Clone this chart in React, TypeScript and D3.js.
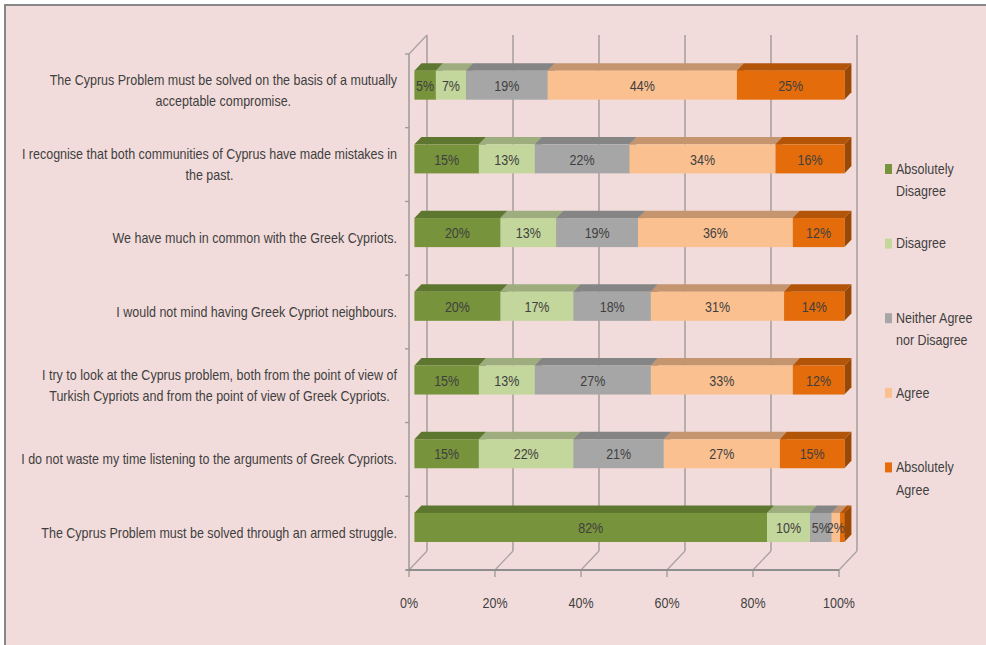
import React, { useEffect, useRef } from "react";
import * as d3 from "d3";

const categories: string[][] = [
  ["The Cyprus Problem must be solved on the basis of a mutually", "acceptable compromise."],
  ["I recognise that both communities of Cyprus have made mistakes in", "the past."],
  ["We have much in common with the Greek Cypriots."],
  ["I would not mind having Greek Cypriot neighbours."],
  ["I try to look at the Cyprus problem, both from the point of view of", "Turkish Cypriots and from the point of view of Greek Cypriots."],
  ["I do not waste my time listening to the arguments of Greek Cypriots."],
  ["The Cyprus Problem must be solved through an armed struggle."],
];

const seriesNames: string[][] = [
  ["Absolutely", "Disagree"],
  ["Disagree"],
  ["Neither Agree", "nor Disagree"],
  ["Agree"],
  ["Absolutely", "Agree"],
];

const absolutelyDisagree = [5, 15, 20, 20, 15, 15, 82];
const disagree = [7, 13, 13, 17, 13, 22, 10];
const neither = [19, 22, 19, 18, 27, 21, 5];
const agree = [44, 34, 36, 31, 33, 27, 2];
const absolutelyAgree = [25, 16, 12, 14, 12, 15, 1];

const seriesValues = [absolutelyDisagree, disagree, neither, agree, absolutelyAgree];

const frontColors = ["#77933C", "#C3D69B", "#A6A6A6", "#FAC090", "#E46C0A"];
const topColors = ["#5E7730", "#9DAD7E", "#858585", "#C4956F", "#B35508"];
const sideColors = ["#4F6328", "#8A9A6C", "#6E6E6E", "#A87E5C", "#9C4805"];

const xTicks = [0, 20, 40, 60, 80, 100];

const FONT = "'Liberation Sans', Arial, sans-serif";

export default function App() {
  const ref = useRef<SVGSVGElement>(null);

  useEffect(() => {
    const svg = d3.select(ref.current);
    svg.selectAll("*").remove();

    const W = 986, H = 645;
    svg.append("rect").attr("width", W).attr("height", H).attr("fill", "#ffffff");
    svg.append("rect").attr("x", 5).attr("y", 5).attr("width", W + 10).attr("height", H + 10)
      .attr("fill", "#F2DCDB").attr("stroke", "#878787").attr("stroke-width", 2);

    // horizontal condensing factor to mimic the narrow font of the reference
    const probe = svg.append("text").attr("font-family", FONT).attr("font-size", 14)
      .text(categories[5][0]);
    const probeW = (probe.node() as SVGTextElement).getComputedTextLength();
    probe.remove();
    const f = probeW > 0 ? 376 / probeW : 0.8;

    const addText = (
      parent: d3.Selection<SVGGElement, unknown, null, undefined>,
      tx: number, ty: number, str: string, anchor: string, size: number
    ) => {
      const g = parent.append("g").attr("transform", `translate(${tx},${ty}) scale(${f},1)`);
      const t = g.append("text")
        .attr("text-anchor", anchor).attr("dominant-baseline", "central")
        .attr("font-family", FONT).attr("font-size", size).attr("fill", "#3F3F3F")
        .text(str);
      return { g, t };
    };

    const x0 = 409, x1 = 839, yTop = 54, yBot = 570;
    const depth = { dx: 18, dy: -19 };
    const x = d3.scaleLinear().domain([0, 100]).range([x0, x1]);
    const y = d3.scaleBand<number>().domain(d3.range(categories.length)).range([yTop, yBot]).padding(0);
    const step = y.step();

    const grid = svg.append("g");
    const gridColor = "#A9A1A1";
    xTicks.forEach((t) => {
      grid.append("line")
        .attr("x1", x(t) + depth.dx).attr("x2", x(t) + depth.dx)
        .attr("y1", yTop + depth.dy).attr("y2", yBot + depth.dy)
        .attr("stroke", gridColor).attr("stroke-width", 1.6);
      grid.append("line")
        .attr("x1", x(t)).attr("y1", yBot)
        .attr("x2", x(t) + depth.dx).attr("y2", yBot + depth.dy)
        .attr("stroke", gridColor).attr("stroke-width", 1.3);
      grid.append("line")
        .attr("x1", x(t)).attr("x2", x(t)).attr("y1", yBot).attr("y2", yBot + 7)
        .attr("stroke", "#9A9A9A").attr("stroke-width", 1.3);
    });
    grid.append("line")
      .attr("x1", x0).attr("y1", yTop).attr("x2", x0 + depth.dx).attr("y2", yTop + depth.dy)
      .attr("stroke", gridColor).attr("stroke-width", 1.3);
    grid.append("line").attr("x1", x0).attr("x2", x0).attr("y1", yTop).attr("y2", yBot)
      .attr("stroke", "#9A9A9A").attr("stroke-width", 1.5);
    grid.append("line").attr("x1", x0 - 3).attr("x2", x1).attr("y1", yBot).attr("y2", yBot)
      .attr("stroke", "#8E8E8E").attr("stroke-width", 1.8);
    d3.range(categories.length + 1).forEach((i) => {
      const yy = yTop + i * step;
      grid.append("line").attr("x1", x0 - 4).attr("x2", x0).attr("y1", yy).attr("y2", yy)
        .attr("stroke", "#9A9A9A").attr("stroke-width", 1.3);
    });

    // bars
    const d0 = 0.3, dd = 0.39;
    const barH = step * 0.394;
    const bars = svg.append("g");
    const labels = svg.append("g") as d3.Selection<SVGGElement, unknown, null, undefined>;
    categories.forEach((_, ci) => {
      const fy = (y(ci) as number) + (step - barH) / 2 + depth.dy * d0;
      let cum = 0;
      seriesValues.forEach((vals, si) => {
        const v = vals[ci];
        const xa = x(cum) + depth.dx * d0;
        const xb = x(cum + v) + depth.dx * d0;
        cum += v;
        const ox = depth.dx * dd, oy = depth.dy * dd;
        bars.append("path")
          .attr("d", `M${xb},${fy}L${xb + ox},${fy + oy}L${xb + ox},${fy + barH + oy}L${xb},${fy + barH}Z`)
          .attr("fill", sideColors[si]);
        bars.append("path")
          .attr("d", `M${xa},${fy}L${xa + ox},${fy + oy}L${xb + ox},${fy + oy}L${xb},${fy}Z`)
          .attr("fill", topColors[si]);
        bars.append("rect")
          .attr("x", xa).attr("y", fy).attr("width", Math.max(0, xb - xa)).attr("height", barH)
          .attr("fill", frontColors[si]);
        if (v >= 2) {
          addText(labels, (xa + xb) / 2, fy + barH / 2 + 1, `${v}%`, "middle", 14);
        }
      });
    });

    // category labels
    const catG = svg.append("g") as d3.Selection<SVGGElement, unknown, null, undefined>;
    const rightEdge = 397;
    const lineH = 21;
    categories.forEach((lines, ci) => {
      const cy = (y(ci) as number) + step / 2;
      const items = lines.map((ln, li) =>
        addText(catG, 0, cy + (li - (lines.length - 1) / 2) * lineH, ln, "middle", 14)
      );
      const maxW = (d3.max(items, (it) => (it.t.node() as SVGTextElement).getComputedTextLength()) || 0) * f;
      items.forEach((it, li) =>
        it.g.attr("transform", `translate(${rightEdge - maxW / 2},${cy + (li - (lines.length - 1) / 2) * lineH}) scale(${f},1)`)
      );
    });

    // x tick labels
    const tickG = svg.append("g") as d3.Selection<SVGGElement, unknown, null, undefined>;
    xTicks.forEach((t) => {
      addText(tickG, x(t), 603, `${t}%`, "middle", 14);
    });

    // legend
    const lg = svg.append("g") as d3.Selection<SVGGElement, unknown, null, undefined>;
    const legendY0 = 169, legendStep = 74.6;
    seriesNames.forEach((lines, si) => {
      const cy = legendY0 + si * legendStep;
      lg.append("rect").attr("x", 885).attr("y", cy - 5).attr("width", 7).attr("height", 10)
        .attr("fill", frontColors[si]);
      lines.forEach((ln, li) => {
        addText(lg, 896, cy + li * 22.5, ln, "start", 14);
      });
    });
  }, []);

  return (
    <div style={{ position: "absolute", left: 0, top: 0 }}>
      <svg ref={ref} width={986} height={645} style={{ display: "block" }} />
    </div>
  );
}
